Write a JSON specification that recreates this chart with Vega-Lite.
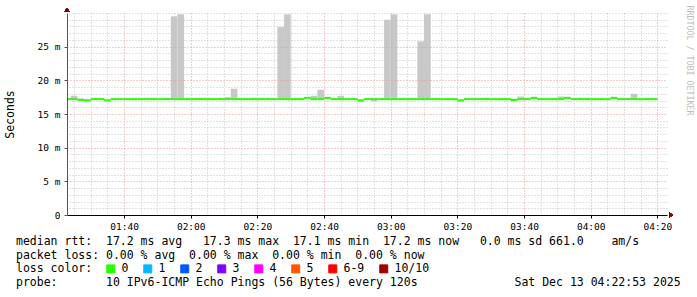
{
  "$schema": "https://vega.github.io/schema/vega-lite/v6.json",
  "width": 600,
  "height": 202,
  "autosize": "none",
  "padding": {"left": 67, "top": 13, "right": 30, "bottom": 82},
  "background": "white",
  "config": {
    "view": {"stroke": null},
    "font": "DejaVu Sans Mono",
    "axis": {"labelFont": "DejaVu Sans Mono", "titleFont": "DejaVu Sans Mono", "labelColor": "black", "titleColor": "black", "titleFontWeight": "normal"}
  },
  "title": {
    "text": [
      "median rtt:\u00a0\u00a017.2 ms avg\u00a0\u00a0\u00a017.3 ms max\u00a0\u00a017.1 ms min\u00a0\u00a017.2 ms now\u00a0\u00a0\u00a00.0 ms sd\u00a0661.0\u00a0\u00a0\u00a0\u00a0am/s",
      "packet loss: 0.00 % avg\u00a0\u00a00.00 % max\u00a0\u00a00.00 % min\u00a0\u00a00.00 % now"
    ],
    "subtitle": "probe:\u00a0\u00a0\u00a0\u00a0\u00a0\u00a0\u00a010 IPv6-ICMP Echo Pings (56 Bytes) every 120s\u00a0\u00a0\u00a0\u00a0\u00a0\u00a0\u00a0\u00a0\u00a0\u00a0\u00a0\u00a0\u00a0\u00a0Sat Dec 13 04:22:53 2025",
    "orient": "bottom",
    "anchor": "start",
    "frame": "group",
    "dx": -51,
    "offset": -39,
    "font": "DejaVu Sans Mono",
    "fontSize": 11.5,
    "fontWeight": "normal",
    "color": "black",
    "lineHeight": 14,
    "subtitleFont": "DejaVu Sans Mono",
    "subtitleFontSize": 11.5,
    "subtitleFontWeight": "normal",
    "subtitleColor": "black",
    "subtitlePadding": 15
  },
  "data": {
    "values": [
      {"t": 82, "t2": 84, "lo": 17.1, "hi": 17.3, "med": 17.2, "loss": "0"},
      {"t": 84, "t2": 86, "lo": 17.1, "hi": 17.7, "med": 17.2, "loss": "0"},
      {"t": 86, "t2": 88, "lo": 17.0, "hi": 17.3, "med": 17.1, "loss": "0"},
      {"t": 88, "t2": 90, "lo": 16.95, "hi": 17.2, "med": 17.0, "loss": "0"},
      {"t": 90, "t2": 92, "lo": 17.1, "hi": 17.4, "med": 17.2, "loss": "0"},
      {"t": 92, "t2": 94, "lo": 17.1, "hi": 17.3, "med": 17.2, "loss": "0"},
      {"t": 94, "t2": 96, "lo": 16.95, "hi": 17.2, "med": 17.0, "loss": "0"},
      {"t": 96, "t2": 98, "lo": 17.1, "hi": 17.3, "med": 17.2, "loss": "0"},
      {"t": 98, "t2": 100, "lo": 17.1, "hi": 17.3, "med": 17.2, "loss": "0"},
      {"t": 100, "t2": 102, "lo": 17.1, "hi": 17.3, "med": 17.2, "loss": "0"},
      {"t": 102, "t2": 104, "lo": 17.1, "hi": 17.3, "med": 17.2, "loss": "0"},
      {"t": 104, "t2": 106, "lo": 17.1, "hi": 17.3, "med": 17.2, "loss": "0"},
      {"t": 106, "t2": 108, "lo": 17.1, "hi": 17.3, "med": 17.2, "loss": "0"},
      {"t": 108, "t2": 110, "lo": 17.1, "hi": 17.4, "med": 17.2, "loss": "0"},
      {"t": 110, "t2": 112, "lo": 17.1, "hi": 17.3, "med": 17.2, "loss": "0"},
      {"t": 112, "t2": 114, "lo": 17.1, "hi": 17.4, "med": 17.2, "loss": "0"},
      {"t": 114, "t2": 116, "lo": 17.1, "hi": 29.5, "med": 17.2, "loss": "0"},
      {"t": 116, "t2": 118, "lo": 17.1, "hi": 29.8, "med": 17.2, "loss": "0"},
      {"t": 118, "t2": 120, "lo": 17.1, "hi": 17.3, "med": 17.2, "loss": "0"},
      {"t": 120, "t2": 122, "lo": 17.1, "hi": 17.3, "med": 17.2, "loss": "0"},
      {"t": 122, "t2": 124, "lo": 17.1, "hi": 17.4, "med": 17.2, "loss": "0"},
      {"t": 124, "t2": 126, "lo": 17.1, "hi": 17.4, "med": 17.2, "loss": "0"},
      {"t": 126, "t2": 128, "lo": 17.1, "hi": 17.3, "med": 17.2, "loss": "0"},
      {"t": 128, "t2": 130, "lo": 17.1, "hi": 17.3, "med": 17.2, "loss": "0"},
      {"t": 130, "t2": 132, "lo": 17.1, "hi": 17.5, "med": 17.2, "loss": "0"},
      {"t": 132, "t2": 134, "lo": 17.1, "hi": 18.75, "med": 17.2, "loss": "0"},
      {"t": 134, "t2": 136, "lo": 17.1, "hi": 17.3, "med": 17.2, "loss": "0"},
      {"t": 136, "t2": 138, "lo": 17.1, "hi": 17.3, "med": 17.2, "loss": "0"},
      {"t": 138, "t2": 140, "lo": 17.1, "hi": 17.4, "med": 17.2, "loss": "0"},
      {"t": 140, "t2": 142, "lo": 17.1, "hi": 17.4, "med": 17.2, "loss": "0"},
      {"t": 142, "t2": 144, "lo": 17.1, "hi": 17.3, "med": 17.2, "loss": "0"},
      {"t": 144, "t2": 146, "lo": 17.1, "hi": 17.3, "med": 17.2, "loss": "0"},
      {"t": 146, "t2": 148, "lo": 17.1, "hi": 27.9, "med": 17.2, "loss": "0"},
      {"t": 148, "t2": 150, "lo": 17.1, "hi": 29.8, "med": 17.2, "loss": "0"},
      {"t": 150, "t2": 152, "lo": 17.1, "hi": 17.3, "med": 17.2, "loss": "0"},
      {"t": 152, "t2": 154, "lo": 17.1, "hi": 17.4, "med": 17.2, "loss": "0"},
      {"t": 154, "t2": 156, "lo": 17.2, "hi": 17.5, "med": 17.4, "loss": "0"},
      {"t": 156, "t2": 158, "lo": 17.1, "hi": 17.7, "med": 17.2, "loss": "0"},
      {"t": 158, "t2": 160, "lo": 17.1, "hi": 18.6, "med": 17.2, "loss": "0"},
      {"t": 160, "t2": 162, "lo": 17.2, "hi": 17.5, "med": 17.4, "loss": "0"},
      {"t": 162, "t2": 164, "lo": 17.1, "hi": 17.3, "med": 17.2, "loss": "0"},
      {"t": 164, "t2": 166, "lo": 17.1, "hi": 17.7, "med": 17.2, "loss": "0"},
      {"t": 166, "t2": 168, "lo": 17.1, "hi": 17.3, "med": 17.2, "loss": "0"},
      {"t": 168, "t2": 170, "lo": 17.1, "hi": 17.3, "med": 17.2, "loss": "0"},
      {"t": 170, "t2": 172, "lo": 16.9, "hi": 17.2, "med": 17.0, "loss": "0"},
      {"t": 172, "t2": 174, "lo": 17.1, "hi": 17.3, "med": 17.2, "loss": "0"},
      {"t": 174, "t2": 176, "lo": 16.9, "hi": 17.4, "med": 17.2, "loss": "0"},
      {"t": 176, "t2": 178, "lo": 17.1, "hi": 17.3, "med": 17.2, "loss": "0"},
      {"t": 178, "t2": 180, "lo": 17.1, "hi": 29.0, "med": 17.2, "loss": "0"},
      {"t": 180, "t2": 182, "lo": 17.1, "hi": 29.8, "med": 17.2, "loss": "0"},
      {"t": 182, "t2": 184, "lo": 17.1, "hi": 17.3, "med": 17.2, "loss": "0"},
      {"t": 184, "t2": 186, "lo": 17.1, "hi": 17.3, "med": 17.2, "loss": "0"},
      {"t": 186, "t2": 188, "lo": 17.1, "hi": 17.3, "med": 17.2, "loss": "0"},
      {"t": 188, "t2": 190, "lo": 17.1, "hi": 25.8, "med": 17.2, "loss": "0"},
      {"t": 190, "t2": 192, "lo": 17.1, "hi": 29.8, "med": 17.2, "loss": "0"},
      {"t": 192, "t2": 194, "lo": 17.1, "hi": 17.3, "med": 17.2, "loss": "0"},
      {"t": 194, "t2": 196, "lo": 17.1, "hi": 17.3, "med": 17.2, "loss": "0"},
      {"t": 196, "t2": 198, "lo": 17.1, "hi": 17.3, "med": 17.2, "loss": "0"},
      {"t": 198, "t2": 200, "lo": 17.1, "hi": 17.3, "med": 17.2, "loss": "0"},
      {"t": 200, "t2": 202, "lo": 16.95, "hi": 17.2, "med": 17.0, "loss": "0"},
      {"t": 202, "t2": 204, "lo": 17.1, "hi": 17.4, "med": 17.2, "loss": "0"},
      {"t": 204, "t2": 206, "lo": 17.1, "hi": 17.4, "med": 17.2, "loss": "0"},
      {"t": 206, "t2": 208, "lo": 17.1, "hi": 17.3, "med": 17.2, "loss": "0"},
      {"t": 208, "t2": 210, "lo": 17.1, "hi": 17.4, "med": 17.2, "loss": "0"},
      {"t": 210, "t2": 212, "lo": 17.1, "hi": 17.3, "med": 17.2, "loss": "0"},
      {"t": 212, "t2": 214, "lo": 17.1, "hi": 17.3, "med": 17.2, "loss": "0"},
      {"t": 214, "t2": 216, "lo": 17.1, "hi": 17.3, "med": 17.2, "loss": "0"},
      {"t": 216, "t2": 218, "lo": 16.9, "hi": 17.25, "med": 17.1, "loss": "0"},
      {"t": 218, "t2": 220, "lo": 17.1, "hi": 17.6, "med": 17.2, "loss": "0"},
      {"t": 220, "t2": 222, "lo": 17.1, "hi": 17.4, "med": 17.2, "loss": "0"},
      {"t": 222, "t2": 224, "lo": 17.2, "hi": 17.5, "med": 17.4, "loss": "0"},
      {"t": 224, "t2": 226, "lo": 17.1, "hi": 17.3, "med": 17.2, "loss": "0"},
      {"t": 226, "t2": 228, "lo": 17.1, "hi": 17.3, "med": 17.2, "loss": "0"},
      {"t": 228, "t2": 230, "lo": 17.1, "hi": 17.4, "med": 17.2, "loss": "0"},
      {"t": 230, "t2": 232, "lo": 17.1, "hi": 17.6, "med": 17.2, "loss": "0"},
      {"t": 232, "t2": 234, "lo": 17.2, "hi": 17.5, "med": 17.4, "loss": "0"},
      {"t": 234, "t2": 236, "lo": 17.1, "hi": 17.4, "med": 17.2, "loss": "0"},
      {"t": 236, "t2": 238, "lo": 17.1, "hi": 17.4, "med": 17.2, "loss": "0"},
      {"t": 238, "t2": 240, "lo": 17.1, "hi": 17.4, "med": 17.2, "loss": "0"},
      {"t": 240, "t2": 242, "lo": 17.1, "hi": 17.3, "med": 17.2, "loss": "0"},
      {"t": 242, "t2": 244, "lo": 17.1, "hi": 17.3, "med": 17.2, "loss": "0"},
      {"t": 244, "t2": 246, "lo": 17.1, "hi": 17.3, "med": 17.2, "loss": "0"},
      {"t": 246, "t2": 248, "lo": 17.2, "hi": 17.5, "med": 17.4, "loss": "0"},
      {"t": 248, "t2": 250, "lo": 17.1, "hi": 17.3, "med": 17.2, "loss": "0"},
      {"t": 250, "t2": 252, "lo": 17.1, "hi": 17.4, "med": 17.2, "loss": "0"},
      {"t": 252, "t2": 254, "lo": 17.1, "hi": 18.0, "med": 17.2, "loss": "0"},
      {"t": 254, "t2": 256, "lo": 17.1, "hi": 17.3, "med": 17.2, "loss": "0"},
      {"t": 256, "t2": 258, "lo": 17.1, "hi": 17.3, "med": 17.2, "loss": "0"},
      {"t": 258, "t2": 260, "lo": 17.1, "hi": 17.3, "med": 17.2, "loss": "0"}
    ]
  },
  "resolve": {"axis": {"x": "independent", "y": "independent"}},
  "layer": [
    {
      "mark": {"type": "bar", "color": "#c8c8c8", "clip": true},
      "encoding": {
        "x": {
          "field": "t", "type": "quantitative",
          "scale": {"domain": [82.8833, 262.8833], "nice": false, "zero": false},
          "axis": {"orient": "top", "title": null, "labels": false, "ticks": false, "domain": false,
                   "values": [85,90,95,105,110,115,125,130,135,145,150,155,165,170,175,185,190,195,205,210,215,225,230,235,245,250,255],
                   "grid": true, "gridColor": "#c4c4c4", "gridDash": [1, 2], "gridWidth": 1, "zindex": 1}
        },
        "x2": {"field": "t2"},
        "y": {
          "field": "lo", "type": "quantitative",
          "scale": {"domain": [0, 30], "nice": false, "zero": true},
          "axis": {"orient": "right", "labels": false, "ticks": false, "domain": false,
                   "values": [1,2,3,4,6,7,8,9,11,12,13,14,16,17,18,19,21,22,23,24,26,27,28,29,30],
                   "grid": true, "gridColor": "#c4c4c4", "gridDash": [1, 2], "gridWidth": 1, "zindex": 1,
                   "title": "RRDTOOL / TOBI OETIKER", "titleAngle": 90, "titleX": 21, "titleY": 47, "titleAlign": "center", "titleBaseline": "middle", "titleFontSize": 8.3, "titleColor": "#bdbdbd"}
        },
        "y2": {"field": "hi"}
      }
    },
    {
      "mark": {"type": "rule", "strokeWidth": 2, "clip": true},
      "encoding": {
        "x": {
          "field": "t", "type": "quantitative",
          "axis": {"orient": "bottom", "title": null,
                   "values": [100, 120, 140, 160, 180, 200, 220, 240, 260],
                   "labelExpr": "(floor(datum.value / 60) < 10 ? '0' : '') + floor(datum.value / 60) + ':' + (datum.value % 60 < 10 ? '0' : '') + (datum.value % 60)",
                   "labelFontSize": 9.5, "labelPadding": 3, "labelFlush": false, "labelOverlap": false,
                   "grid": true, "gridColor": "#ec9a9a", "gridDash": [1, 2], "gridWidth": 1,
                   "domainColor": "black", "domainWidth": 1, "tickColor": "black", "tickSize": 3, "zindex": 1}
        },
        "x2": {"field": "t2"},
        "y": {
          "field": "med", "type": "quantitative",
          "axis": {"orient": "left", "values": [0, 5, 10, 15, 20, 25],
                   "labelExpr": "datum.value == 0 ? '0' : datum.value + ' m'",
                   "labelFontSize": 9.5, "labelPadding": 4, "labelFlush": false, "labelOverlap": false,
                   "grid": true, "gridColor": "#ec9a9a", "gridDash": [1, 2], "gridWidth": 1,
                   "domainColor": "#555555", "tickColor": "#555555", "tickSize": 3, "zindex": 1,
                   "title": "Seconds", "titleFontSize": 11.5, "titleX": -57, "titleY": 101, "titleAngle": -90, "titleAlign": "center", "titleBaseline": "middle"}
        },
        "color": {
          "field": "loss", "type": "nominal",
          "scale": {"domain": ["0", "1", "2", "3", "4", "5", "6-9", "10/10"], "range": ["#26ff00", "#00b8ff", "#0059ff", "#7e00ff", "#ff00ff", "#ff5500", "#ff0000", "#a10000"]},
          "legend": {
            "orient": "none", "legendX": -51, "legendY": 250, "direction": "horizontal", "padding": 0,
            "title": "loss color:", "titleOrient": "left", "titleFont": "DejaVu Sans Mono", "titleFontSize": 11.5, "titleFontWeight": "normal", "titleColor": "black", "titlePadding": 12,
            "symbolType": "square", "symbolSize": 64, "symbolStrokeWidth": 1, "symbolStrokeColor": "black",
            "labelFont": "DejaVu Sans Mono", "labelFontSize": 11.5, "labelColor": "black", "labelOffset": 5, "columnPadding": 12,
            "encode": {"symbols": {"update": {"fill": {"scale": "color", "field": "value"}, "stroke": {"value": "black"}, "fillOpacity": {"value": 1}}}}
          }
        }
      }
    },
    {
      "mark": {"type": "point", "shape": "triangle-up", "filled": true, "color": "#8b0000", "size": 22, "opacity": 1, "clip": false},
      "encoding": {
        "x": {"datum": 82.8833, "type": "quantitative", "axis": null, "scale": {"domain": [82.8833, 262.8833], "nice": false, "zero": false}},
        "y": {"datum": 30.45, "type": "quantitative", "axis": null, "scale": {"domain": [0, 30], "nice": false, "zero": true}}
      }
    },
    {
      "mark": {"type": "point", "shape": "triangle-right", "filled": true, "color": "#8b0000", "size": 22, "opacity": 1, "clip": false},
      "encoding": {
        "x": {"datum": 264.1, "type": "quantitative", "axis": null, "scale": {"domain": [82.8833, 262.8833], "nice": false, "zero": false}},
        "y": {"datum": 0, "type": "quantitative", "axis": null, "scale": {"domain": [0, 30], "nice": false, "zero": true}}
      }
    }
  ]
}
